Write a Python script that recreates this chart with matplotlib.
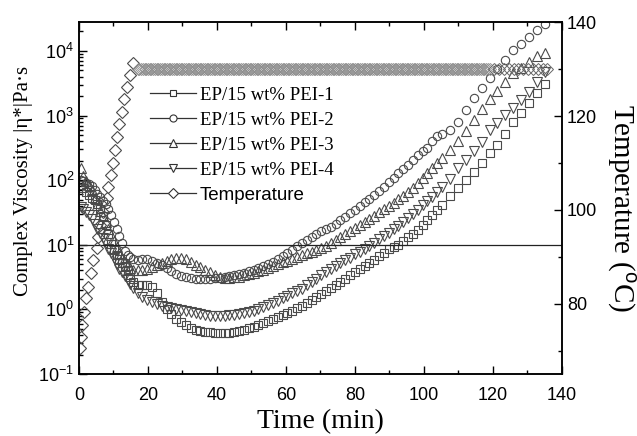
import matplotlib
matplotlib.use('Agg')
import matplotlib.pyplot as plt
from matplotlib.ticker import MultipleLocator, LogLocator, NullFormatter
from matplotlib.lines import Line2D

plt.rcParams['font.family'] = ['Liberation Sans', 'DejaVu Sans']
plt.rcParams['mathtext.fontset'] = 'custom'
plt.rcParams['mathtext.rm'] = 'Liberation Sans'
plt.rcParams['mathtext.it'] = 'Liberation Sans:italic'
SERIF = ['Liberation Serif', 'DejaVu Serif']

# time axis of the viscosity sweeps (min)
t_visc = [0.5, 1.3, 2.1, 2.9, 3.7, 4.5, 5.3, 6.1, 6.9, 7.7, 8.5, 9.3, 10.1, 10.9, 11.7, 12.5, 13.3, 14.1, 14.9, 15.7,
          17.0, 18.4, 19.8, 21.2, 22.6, 24.0, 25.4, 26.8, 28.2, 29.6, 31.0, 32.4, 33.8, 35.2, 36.6, 38.0,
          39.4, 40.8, 42.2, 43.6, 45.0, 46.4, 47.8, 49.2, 50.6, 52.0, 53.4, 54.8, 56.2, 57.6, 59.0, 60.4,
          61.8, 63.2, 64.6, 66.0, 67.4, 68.8, 70.2, 71.6, 73.0, 74.4, 75.8, 77.2, 78.6, 80.0, 81.4, 82.8,
          84.2, 85.6, 87.0, 88.4, 89.8, 91.2, 92.6, 94.0, 95.4, 96.8, 98.2, 99.6, 101.0, 102.4, 103.8, 105.2,
          107.5, 109.8, 112.1, 114.4, 116.7, 119.0, 121.3, 123.6, 125.9, 128.2, 130.5, 132.8, 135.1]

# complex viscosity |eta*| (Pa.s)
eta_pei1 = [84, 76, 65.5, 59, 53, 49.4, 43, 36, 27.9, 20.2, 14.8, 10.3, 8.3, 7.0, 6.0, 5.25, 4.7, 4.07, 3.2, 2.65,
            2.4, 2.4, 2.4, 2.2, 1.80, 1.30, 1.01, 0.85, 0.71, 0.64, 0.57, 0.515, 0.48, 0.465, 0.45, 0.45,
            0.43, 0.43, 0.43, 0.43, 0.45, 0.465, 0.48, 0.515, 0.535, 0.57, 0.615, 0.66, 0.71, 0.765, 0.82, 0.88,
            0.945, 1.05, 1.12, 1.26, 1.40, 1.56, 1.73, 1.93, 2.15, 2.39, 2.65, 2.95, 3.4, 3.8, 4.2, 4.7,
            5.25, 5.8, 6.7, 7.5, 8.6, 9.3, 10.0, 11.5, 13.3, 14.8, 16.9, 20.2, 24.2, 28.7, 34.6, 41.4,
            57, 76, 101, 134, 185, 265, 350, 520, 800, 1100, 1560, 2240, 3070]
eta_pei2 = [101, 97.5, 91, 88, 82, 70.5, 61, 55, 47.6, 43, 36, 28.7, 22.5, 17.5, 13.8, 10.8, 8.0, 7.0, 6.5, 6.0,
            5.8, 6.0, 6.0, 5.6, 5.2, 4.9, 4.4, 3.9, 3.55, 3.3, 3.2, 3.05, 2.95, 2.95, 2.95, 2.95,
            3.05, 3.05, 3.2, 3.3, 3.4, 3.55, 3.65, 3.95, 4.07, 4.4, 4.7, 5.0, 5.4, 6.0, 6.7, 7.4,
            8.3, 9.6, 10.8, 11.9, 13.3, 14.8, 16.3, 17.5, 18.8, 21, 24.2, 27, 31, 34.6, 40, 46,
            51, 59, 68, 78, 94, 108, 129, 149, 173, 205, 245, 283, 316, 405, 482, 520,
            598, 800, 1220, 1860, 2680, 3840, 5260, 7260, 10400, 12900, 16500, 21100, 26200]
eta_pei3 = [155, 116, 97.5, 84, 70.5, 53, 41.4, 33.4, 27.9, 22.5, 17.5, 14.3, 11.5, 9.3, 7.5, 6.25, 5.4, 4.9, 4.4, 4.07,
            4.07, 4.07, 4.2, 4.55, 4.9, 5.25, 5.6, 6.0, 6.25, 6.25, 6.0, 5.4, 4.9, 4.55, 4.07, 3.8,
            3.4, 3.2, 3.05, 3.05, 3.2, 3.2, 3.4, 3.55, 3.65, 3.95, 4.07, 4.4, 4.7, 5.0, 5.4, 5.6,
            6.0, 6.5, 7.0, 7.5, 7.7, 8.3, 8.9, 9.6, 10.8, 11.9, 13.3, 14.8, 16.3, 18.1, 20.2, 22.5,
            25.1, 27.9, 32.2, 36, 40, 44.5, 51, 57, 66, 76, 91, 108, 129, 155, 185, 220,
            293, 405, 577, 855, 1260, 1800, 2400, 3320, 4550, 5440, 6750, 8400, 9300]
eta_pei4 = [38.5, 36, 32.2, 28.7, 25.1, 21, 17.5, 15.2, 12.8, 10.8, 8.6, 7.5, 6.25, 5.0, 4.2, 3.8, 3.3, 2.85, 2.5, 2.15,
            1.8, 1.56, 1.40, 1.30, 1.21, 1.12, 1.09, 1.05, 1.01, 0.98, 0.945, 0.91, 0.88, 0.85, 0.82, 0.79,
            0.79, 0.79, 0.79, 0.82, 0.82, 0.85, 0.88, 0.91, 0.945, 1.01, 1.09, 1.17, 1.26, 1.35, 1.50, 1.62,
            1.80, 1.93, 2.07, 2.39, 2.65, 2.95, 3.4, 3.8, 4.2, 4.7, 5.25, 5.8, 6.25, 7.2, 7.7, 8.6,
            9.6, 10.8, 12.3, 13.8, 15.2, 17.5, 19.5, 22.5, 26, 29.7, 34.6, 41.4, 47.6, 55, 66, 78,
            105, 155, 205, 283, 390, 598, 770, 1020, 1310, 1740, 2320, 3320, 4730]

# temperature program: heating ramp, then isothermal hold (degC)
ramp_time = [0.3, 0.6, 0.9, 1.4, 2.0, 2.6, 3.5, 4.1, 5.2, 5.5, 6.1, 7.0, 8.1, 8.4, 9.3, 9.9,
             10.4, 11.0, 11.6, 12.5, 13.0, 13.9, 14.8, 15.7]
ramp_temp = [70.6, 73.0, 75.5, 78.3, 81.3, 83.6, 86.6, 89.4, 91.9, 94.3, 96.8, 99.6, 102.6, 104.9, 107.4, 110.0,
             112.8, 115.5, 118.3, 120.9, 123.6, 126.2, 128.7, 131.3]
# densely logged part of the hold (shows as a grey band)
hold_time = [17.0, 17.5, 18.0, 18.5, 19.0, 19.5, 20.0, 20.5, 21.0, 21.5,
             22.0, 22.5, 23.0, 23.5, 24.0, 24.5, 25.0, 25.5, 26.0, 26.5,
             27.0, 27.5, 28.0, 28.5, 29.0, 29.5, 30.0, 30.5, 31.0, 31.5,
             32.0, 32.5, 33.0, 33.5, 34.0, 34.5, 35.0, 35.5, 36.0, 36.5,
             37.0, 37.5, 38.0, 38.5, 39.0, 39.5, 40.0, 40.5, 41.0, 41.5,
             42.0, 42.5, 43.0, 43.5, 44.0, 44.5, 45.0, 45.5, 46.0, 46.5,
             47.0, 47.5, 48.0, 48.5, 49.0, 49.5, 50.0, 50.5, 51.0, 51.5,
             52.0, 52.5, 53.0, 53.5, 54.0, 54.5, 55.0, 55.5, 56.0, 56.5,
             57.0, 57.5, 58.0, 58.5, 59.0, 59.5, 60.0, 60.5, 61.0, 61.5,
             62.0, 62.5, 63.0, 63.5, 64.0, 64.5, 65.0, 65.5, 66.0, 66.5,
             67.0, 67.5, 68.0, 68.5, 69.0, 69.5, 70.0, 70.5, 71.0, 71.5,
             72.0, 72.5, 73.0, 73.5, 74.0, 74.5, 75.0, 75.5, 76.0, 76.5,
             77.0, 77.5, 78.0, 78.5, 79.0, 79.5, 80.0, 80.5, 81.0, 81.5,
             82.0, 82.5, 83.0, 83.5, 84.0, 84.5, 85.0, 85.5, 86.0, 86.5,
             87.0, 87.5, 88.0, 88.5, 89.0, 89.5, 90.0, 90.5, 91.0, 91.5,
             92.0, 92.5, 93.0, 93.5, 94.0, 94.5, 95.0, 95.5, 96.0, 96.5,
             97.0, 97.5, 98.0, 98.5, 99.0, 99.5, 100.0, 100.5, 101.0, 101.5,
             102.0, 102.5, 103.0, 103.5, 104.0, 104.5, 105.0, 105.5, 106.0, 106.5,
             107.0, 107.5, 108.0, 108.5, 109.0, 109.5, 110.0, 110.5, 111.0, 111.5,
             112.0, 112.5, 113.0, 113.5, 114.0, 114.5, 115.0, 115.5, 116.0, 116.5,
             117.0, 117.5, 118.0, 118.5, 119.0]
# sparser points at the end of the hold
hold_time_end = [120.4, 121.8, 123.2, 124.6, 126.0, 127.4, 128.8, 130.2, 131.6, 133.0, 134.4, 135.6]
hold_temp = 130

labels = ['EP/15 wt% PEI-1', 'EP/15 wt% PEI-2', 'EP/15 wt% PEI-3', 'EP/15 wt% PEI-4', 'Temperature']
markers = ['s', 'o', '^', 'v', 'D']
sizes = [5.2, 6.0, 6.5, 6.5, 6.0]
edge = '#4a4a4a'

fig = plt.figure(figsize=(6.37, 4.36), dpi=100)
ax = fig.add_axes([0.124, 0.1422, 0.7582, 0.8073])

for eta, m, s in zip([eta_pei1, eta_pei2, eta_pei3, eta_pei4], markers[:4], sizes[:4]):
    ax.plot(t_visc, eta, ls='none', marker=m, ms=s, mfc='none', mec=edge, mew=0.8)
ax.axhline(10, color='#222222', lw=0.9)

ax.set_yscale('log')
ax.set_xlim(0, 140)
ax.set_ylim(0.1, 2.8e4)
ax.xaxis.set_major_locator(MultipleLocator(20))
ax.xaxis.set_minor_locator(MultipleLocator(10))
ax.yaxis.set_major_locator(LogLocator(base=10, numticks=10))
ax.yaxis.set_minor_locator(LogLocator(base=10, subs=range(2, 10), numticks=20))
ax.yaxis.set_minor_formatter(NullFormatter())
ax.tick_params(which='both', direction='in', top=True, right=False, labelsize=13, width=1)
ax.tick_params(which='major', length=6)
ax.tick_params(which='minor', length=3)
ax.tick_params(axis='x', pad=9)

ax2 = ax.twinx()
ax2.plot(ramp_time, ramp_temp, ls='none', marker='D', ms=6.0, mfc='none', mec=edge, mew=0.8)
ax2.plot(hold_time, [hold_temp] * len(hold_time), ls='none', marker='D', ms=6.0,
         mfc='none', mec='#8c8c8c', mew=0.6)
ax2.plot(hold_time_end, [hold_temp] * len(hold_time_end), ls='none', marker='D', ms=6.0,
         mfc='none', mec='#666666', mew=0.7)
ax2.set_ylim(65.1, 140)
ax2.yaxis.set_major_locator(MultipleLocator(20))
ax2.yaxis.set_minor_locator(MultipleLocator(10))
ax2.tick_params(which='both', direction='in', labelsize=13, width=1)
ax2.tick_params(which='major', length=6)
ax2.tick_params(which='minor', length=3)

for a in (ax, ax2):
    for sp in a.spines.values():
        sp.set_linewidth(1.1)

ax.set_xlabel('Time (min)', fontsize=20, family=SERIF, labelpad=4)
ax.set_ylabel('Complex Viscosity |η*|Pa·s', fontsize=15, family=SERIF, va='center', ha='center')
ax.yaxis.set_label_coords(-0.115, 0.548)
ax2.set_ylabel('Temperature ($^{\\mathrm{o}}$C)', fontsize=21, family=SERIF, rotation=270,
               va='center', ha='center')
ax2.yaxis.set_label_coords(1.122, 0.472)

handles = [Line2D([], [], color='#333333', lw=0.9, marker=m, ms=s * 0.85, mfc='white', mec='#333333', mew=0.8)
           for m, s in zip(markers, sizes)]
leg = ax2.legend(handles, labels, loc='upper left', bbox_to_anchor=(0.147, 0.816), frameon=False,
                 borderpad=0, borderaxespad=0, handlelength=2.45, handletextpad=0.2,
                 labelspacing=0.42, prop={'family': SERIF, 'size': 13.5})
leg.get_texts()[-1].set_fontfamily(['Liberation Sans', 'DejaVu Sans'])

fig.savefig('out.png', dpi=100)
